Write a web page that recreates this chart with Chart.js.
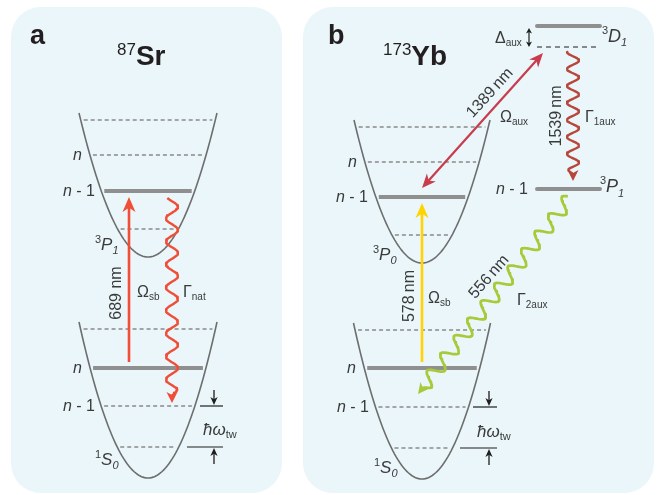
<!DOCTYPE html>
<html>
<head>
<meta charset="utf-8">
<script src="https://cdn.jsdelivr.net/npm/chart.js@4.4.0/dist/chart.umd.min.js"></script>
<style>
  html, body { margin: 0; padding: 0; background: #ffffff; }
  canvas { display: block; }
</style>
</head>
<body>
<canvas id="diagram" width="662" height="495"></canvas>
<script>
// ---------------------------------------------------------------
// Sideband-cooling level schemes: (a) 87Sr, (b) 173Yb.
// Diagram units: x to the right, y downward (energy up = smaller y).
// ---------------------------------------------------------------

// Panel frames [left, top, right, bottom]
const panelFrames = [[11, 7, 282, 493], [303, 7, 654, 493]];

// Harmonic trap wells: a-excited, a-ground, b-excited, b-ground
const wellCentre   = [148, 148, 422, 422];
const wellFloor    = [257, 478, 263, 479];
const wellRim      = [113, 322, 120, 323];
const wellHalfSpan = [69, 69, 68, 68.5];

// Motional levels inside each well, and the one that is populated
const motionalLevels = [
  [120, 155, 191, 229],
  [329, 368, 406, 447],
  [127, 162, 197, 235],
  [330, 368, 407, 448]
];
const occupiedLevel = [191, 368, 197, 368];

// Auxiliary free-atom levels of Yb (3D1, 3P1) and the detuned virtual level
const auxLevelSpan = [537, 600];
const auxLevels    = [26, 189];
const virtualLevel = 47;

// Laser drives (tail -> tip)
const sidebandDrives = [[[129, 362], [129, 197]], [[422, 362], [422, 203]]];
const auxDrive       = [[422, 188], [543, 53]];
const detuningMark   = [[529, 28], [529, 47]];

// Spontaneous decays (start -> arrow tip)
const decayPaths      = [[[172, 198], [172, 403]], [[573, 52], [573, 181]], [[570, 198], [418, 394]]];
const decayPeriods    = [23, 17, 22];
const decayPhases     = [2.25, 1.57, 0.4];
const decayAmplitudes = [6, 6, 7];

// Trap-frequency spacing markers
const spacingX         = [214, 489];
const spacingUpper     = [406, 407];
const spacingLower     = [447, 448];
const spacingTickUpper = [[200, 223], [473, 497]];
const spacingTickLower = [[187, 223], [460, 497]];

// ---------------------------------------------------------------
const SANS = '"Liberation Sans", Arial, "DejaVu Sans", sans-serif';
const INK = '#3a3a3a';
const TITLE = '#231f20';

const col = {
  well: '#6e6e6e',
  level: '#8a8a8a',
  filled: '#8f8f8f',
  mark: '#1e1e1e',
  srRed: '#f04e37',
  ybYellow: '#ffd400',
  auxRed: '#c83c4c',
  irDecay: '#b8473b',
  green: '#a6ca3a'
};

function wellCurve(i) {
  const pts = [], c = wellCentre[i], f = wellFloor[i], r = wellRim[i], h = wellHalfSpan[i];
  for (let k = -40; k <= 40; k++) {
    const u = k / 40;
    pts.push({ x: c + u * h, y: f - (f - r) * u * u });
  }
  return pts;
}

function levelSpan(i, y, inset) {
  const c = wellCentre[i], f = wellFloor[i], r = wellRim[i];
  const h = wellHalfSpan[i] * Math.sqrt((f - y) / (f - r)) - inset;
  return [{ x: c - h, y }, { x: c + h, y }];
}

function shaft(p0, p1, trim0, trim1) {
  const dx = p1[0] - p0[0], dy = p1[1] - p0[1], L = Math.hypot(dx, dy);
  const ux = dx / L, uy = dy / L;
  return [{ x: p0[0] + ux * trim0, y: p0[1] + uy * trim0 },
          { x: p1[0] - ux * trim1, y: p1[1] - uy * trim1 }];
}

function wavy(p0, p1, amp, period, phase, endTrim) {
  const dx = p1[0] - p0[0], dy = p1[1] - p0[1], L = Math.hypot(dx, dy);
  const ux = dx / L, uy = dy / L, nx = -uy, ny = ux;
  const Ls = L - endTrim;
  const n = Math.ceil(Ls / 0.8);
  const pts = [];
  for (let i = 0; i <= n; i++) {
    const s = Ls * i / n;
    const taper = Math.min(1, (Ls - s) / (period * 0.35) + 0.15);
    const a = amp * Math.sin(2 * Math.PI * s / period + phase) * taper;
    pts.push({ x: p0[0] + ux * s + nx * a, y: p0[1] + uy * s + ny * a });
  }
  return pts;
}

const datasets = [];
function addLine(data, color, width, extra) {
  datasets.push(Object.assign({
    data, showLine: true, borderColor: color, backgroundColor: color,
    borderWidth: width, pointRadius: 0, pointHoverRadius: 0, fill: false,
    tension: 0, borderCapStyle: 'butt'
  }, extra || {}));
}

// Motional levels (drawn first, beneath everything)
motionalLevels.forEach((levels, i) => {
  levels.forEach(y => {
    if (y === occupiedLevel[i]) {
      addLine(levelSpan(i, y, 3), col.filled, 4, { borderCapStyle: 'butt' });
    } else {
      addLine(levelSpan(i, y, 3), col.level, 1.3, { borderDash: [4, 3] });
    }
  });
});

// Trap wells
wellCentre.forEach((_, i) => addLine(wellCurve(i), col.well, 1.6));

// Auxiliary levels of Yb
auxLevels.forEach(y => addLine([{ x: auxLevelSpan[0], y }, { x: auxLevelSpan[1], y }], col.filled, 4, { borderCapStyle: 'round' }));
addLine([{ x: auxLevelSpan[0], y: virtualLevel }, { x: auxLevelSpan[1], y: virtualLevel }], col.mark, 1.2, { borderDash: [5, 4] });

// Spacing markers
spacingX.forEach((x, i) => {
  const tu = spacingTickUpper[i], tl = spacingTickLower[i];
  addLine([{ x: tu[0], y: spacingUpper[i] }, { x: tu[1], y: spacingUpper[i] }], col.mark, 1.2);
  addLine([{ x: tl[0], y: spacingLower[i] }, { x: tl[1], y: spacingLower[i] }], col.mark, 1.2);
  const dTail = [x, spacingUpper[i] - 16], dTip = [x, spacingUpper[i] - 1];
  addLine(shaft(dTail, dTip, 0, 5), col.mark, 1.3, { heads: [{ at: dTip, from: dTail, len: 8, w: 3.6 }] });
  const uTail = [x, spacingLower[i] + 17], uTip = [x, spacingLower[i] + 1];
  addLine(shaft(uTail, uTip, 0, 5), col.mark, 1.3, { heads: [{ at: uTip, from: uTail, len: 8, w: 3.6 }] });
});

// Detuning marker
addLine(shaft(detuningMark[0], detuningMark[1], 3, 3), col.mark, 1.2, {
  heads: [{ at: detuningMark[1], from: detuningMark[0], len: 5.5, w: 3 },
          { at: detuningMark[0], from: detuningMark[1], len: 5.5, w: 3 }]
});

// Sideband drives
[col.srRed, col.ybYellow].forEach((c, i) => {
  const [tail, tip] = sidebandDrives[i];
  addLine(shaft(tail, tip, 0, 9), c, 2.6, { heads: [{ at: tip, from: tail, len: 15, w: 6.5 }] });
});

// Auxiliary 1389 nm drive (double headed)
addLine(shaft(auxDrive[0], auxDrive[1], 9, 9), col.auxRed, 2.2, {
  heads: [{ at: auxDrive[1], from: auxDrive[0], len: 14, w: 6 },
          { at: auxDrive[0], from: auxDrive[1], len: 14, w: 6 }]
});

// Spontaneous decays
[col.srRed, col.irDecay, col.green].forEach((c, i) => {
  const [p0, p1] = decayPaths[i];
  addLine(wavy(p0, p1, decayAmplitudes[i], decayPeriods[i], decayPhases[i], 7), c, i === 2 ? 2.7 : 2.4, {
    borderJoinStyle: 'round',
    heads: [{ at: p1, from: p0, len: 11, w: 5.5 }]
  });
});

// Chart.js paints dataset 0 on top, so hand them over in reverse order
datasets.reverse();

// ---------------------------------------------------------------
// Text labels: runs of {t, px, it, b, dy}
const labels = [
  { x: 30,  y: 44, runs: [{ t: 'a', px: 27, b: 1 }], color: TITLE },
  { x: 117, y: 65, runs: [{ t: '87', px: 17, dy: -10 }, { t: 'Sr', px: 28, b: 1 }], color: TITLE },
  { x: 328, y: 44, runs: [{ t: 'b', px: 27, b: 1 }], color: TITLE },
  { x: 383, y: 65, runs: [{ t: '173', px: 17, dy: -10 }, { t: 'Yb', px: 28, b: 1 }], color: TITLE },

  // level names, panel a
  { x: 82, y: 160, align: 'right', runs: [{ t: 'n', px: 16, it: 1 }] },
  { x: 95, y: 196, align: 'right', runs: [{ t: 'n', px: 16, it: 1 }, { t: ' - 1', px: 16 }] },
  { x: 82, y: 373, align: 'right', runs: [{ t: 'n', px: 16, it: 1 }] },
  { x: 95, y: 411, align: 'right', runs: [{ t: 'n', px: 16, it: 1 }, { t: ' - 1', px: 16 }] },
  { x: 95, y: 250, runs: [{ t: '3', px: 11, dy: -7 }, { t: 'P', px: 17, it: 1 }, { t: '1', px: 11, it: 1, dy: 4 }] },
  { x: 95, y: 465, runs: [{ t: '1', px: 11, dy: -7 }, { t: 'S', px: 17, it: 1 }, { t: '0', px: 11, it: 1, dy: 4 }] },
  { x: 117, y: 293, rot: -90, center: true, runs: [{ t: '689 nm', px: 16 }] },
  { x: 137, y: 297, runs: [{ t: 'Ω', px: 16 }, { t: 'sb', px: 10, dy: 3 }] },
  { x: 183, y: 297, runs: [{ t: 'Γ', px: 16 }, { t: 'nat', px: 10, dy: 3 }] },
  { x: 203, y: 435, runs: [{ t: 'ħω', px: 17, it: 1 }, { t: 'tw', px: 11, dy: 3 }] },

  // level names, panel b
  { x: 357, y: 167, align: 'right', runs: [{ t: 'n', px: 16, it: 1 }] },
  { x: 368, y: 202, align: 'right', runs: [{ t: 'n', px: 16, it: 1 }, { t: ' - 1', px: 16 }] },
  { x: 356, y: 373, align: 'right', runs: [{ t: 'n', px: 16, it: 1 }] },
  { x: 369, y: 412, align: 'right', runs: [{ t: 'n', px: 16, it: 1 }, { t: ' - 1', px: 16 }] },
  { x: 528, y: 194, align: 'right', runs: [{ t: 'n', px: 16, it: 1 }, { t: ' - 1', px: 16 }] },
  { x: 373, y: 260, runs: [{ t: '3', px: 11, dy: -7 }, { t: 'P', px: 17, it: 1 }, { t: '0', px: 11, it: 1, dy: 4 }] },
  { x: 374, y: 473, runs: [{ t: '1', px: 11, dy: -7 }, { t: 'S', px: 17, it: 1 }, { t: '0', px: 11, it: 1, dy: 4 }] },
  { x: 602, y: 42, runs: [{ t: '3', px: 11, dy: -8 }, { t: 'D', px: 18, it: 1 }, { t: '1', px: 11, it: 1, dy: 4 }] },
  { x: 600, y: 192, runs: [{ t: '3', px: 11, dy: -8 }, { t: 'P', px: 18, it: 1 }, { t: '1', px: 11, it: 1, dy: 5 }] },
  { x: 495, y: 43, runs: [{ t: 'Δ', px: 16 }, { t: 'aux', px: 10, dy: 3 }] },
  { x: 410, y: 296, rot: -90, center: true, runs: [{ t: '578\u2009nm', px: 16 }] },
  { x: 428, y: 303, runs: [{ t: 'Ω', px: 16 }, { t: 'sb', px: 10, dy: 3 }] },
  { x: 490, y: 93, rot: -48, center: true, runs: [{ t: '1389\u2009nm', px: 16 }] },
  { x: 500, y: 122, runs: [{ t: 'Ω', px: 16 }, { t: 'aux', px: 10, dy: 3 }] },
  { x: 557, y: 116, rot: -90, center: true, runs: [{ t: '1539\u2009nm', px: 16 }] },
  { x: 585, y: 122, runs: [{ t: 'Γ', px: 16 }, { t: '1aux', px: 10, dy: 3 }] },
  { x: 489, y: 277, rot: -49, center: true, runs: [{ t: '556\u2009nm', px: 16 }] },
  { x: 517, y: 305, runs: [{ t: 'Γ', px: 16 }, { t: '2aux', px: 10, dy: 3 }] },
  { x: 477, y: 437, runs: [{ t: 'ħω', px: 17, it: 1 }, { t: 'tw', px: 11, dy: 3 }] }
];

function runFont(r) {
  return (r.it ? 'italic ' : '') + (r.b ? 'bold ' : '') + r.px + 'px ' + SANS;
}

// ---------------------------------------------------------------
const panelPlugin = {
  id: 'panels',
  beforeDatasetsDraw(chart) {
    const { ctx, scales: { x, y } } = chart;
    ctx.save();
    ctx.fillStyle = '#ffffff';
    ctx.fillRect(0, 0, chart.width, chart.height);
    ctx.fillStyle = '#eaf6fa';
    panelFrames.forEach(f => {
      const l = x.getPixelForValue(f[0]), t = y.getPixelForValue(f[1]);
      const r = x.getPixelForValue(f[2]), b = y.getPixelForValue(f[3]);
      ctx.beginPath();
      ctx.roundRect(l, t, r - l, b - t, 30);
      ctx.fill();
    });
    ctx.restore();
  }
};

const arrowPlugin = {
  id: 'arrowHeads',
  afterDatasetsDraw(chart) {
    const { ctx, scales: { x, y } } = chart;
    ctx.save();
    chart.data.datasets.forEach(ds => {
      (ds.heads || []).forEach(h => {
        const tx = x.getPixelForValue(h.at[0]), ty = y.getPixelForValue(h.at[1]);
        const fx = x.getPixelForValue(h.from[0]), fy = y.getPixelForValue(h.from[1]);
        let dx = tx - fx, dy = ty - fy;
        const L = Math.hypot(dx, dy); dx /= L; dy /= L;
        const nx = -dy, ny = dx;
        const bx = tx - dx * h.len, by = ty - dy * h.len;
        ctx.beginPath();
        ctx.moveTo(tx, ty);
        ctx.lineTo(bx + nx * h.w, by + ny * h.w);
        ctx.lineTo(tx - dx * h.len * 0.72, ty - dy * h.len * 0.72);
        ctx.lineTo(bx - nx * h.w, by - ny * h.w);
        ctx.closePath();
        ctx.fillStyle = ds.borderColor;
        ctx.fill();
      });
    });
    ctx.restore();
  }
};

const textPlugin = {
  id: 'richLabels',
  afterDraw(chart) {
    const { ctx, scales: { x, y } } = chart;
    labels.forEach(lb => {
      ctx.save();
      ctx.translate(x.getPixelForValue(lb.x), y.getPixelForValue(lb.y));
      if (lb.rot) ctx.rotate(lb.rot * Math.PI / 180);
      ctx.fillStyle = lb.color || INK;
      ctx.textAlign = 'left';
      ctx.textBaseline = lb.center ? 'middle' : 'alphabetic';
      let total = 0;
      const widths = lb.runs.map(r => { ctx.font = runFont(r); const w = ctx.measureText(r.t).width; total += w; return w; });
      let cx = lb.center ? -total / 2 : (lb.align === 'right' ? -total : 0);
      lb.runs.forEach((r, i) => {
        ctx.font = runFont(r);
        ctx.fillText(r.t, cx, r.dy || 0);
        cx += widths[i];
      });
      ctx.restore();
    });
  }
};

new Chart(document.getElementById('diagram'), {
  type: 'scatter',
  data: { datasets },
  options: {
    responsive: false,
    animation: false,
    devicePixelRatio: 1,
    layout: { padding: 0 },
    events: [],
    plugins: { legend: { display: false }, tooltip: { enabled: false } },
    scales: {
      x: { type: 'linear', min: 0, max: 662, display: false },
      y: { type: 'linear', min: 0, max: 495, reverse: true, display: false }
    }
  },
  plugins: [panelPlugin, arrowPlugin, textPlugin]
});
</script>
</body>
</html>
